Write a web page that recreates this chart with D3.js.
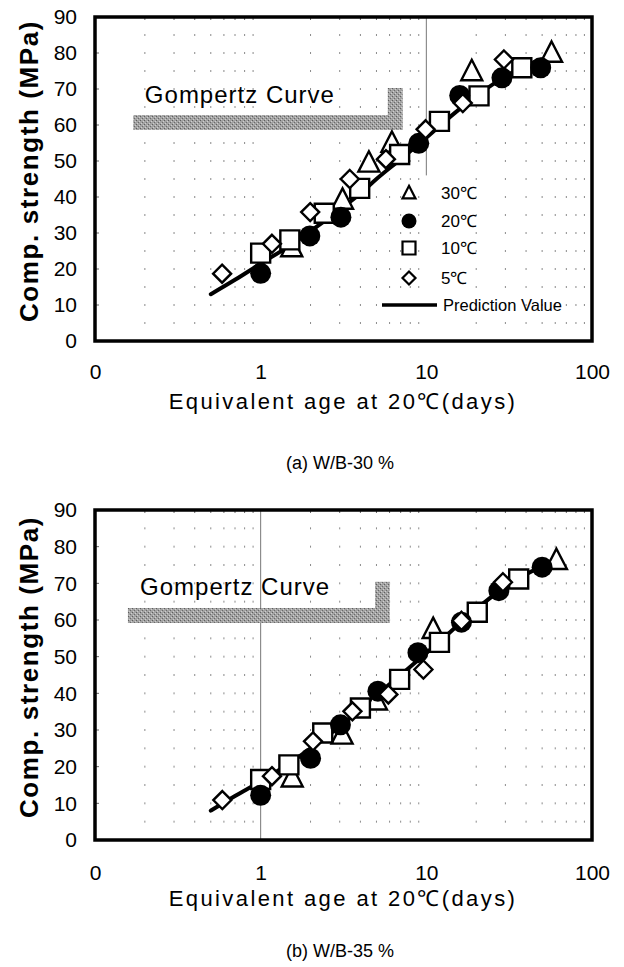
<!DOCTYPE html>
<html>
<head>
<meta charset="utf-8">
<script src="https://cdn.jsdelivr.net/npm/d3@7/dist/d3.min.js"></script>
<style>
  body { margin: 0; background: #fff; }
  text { font-family: "Liberation Sans", Arial, sans-serif; fill: #000; }
</style>
</head>
<body>
<script>
// axis ticks (the log axis starts at 0.1 but the label reads "0")
var xTicks = [0.1, 1, 10, 100];
var xTickLabels = ["0", "1", "10", "100"];
var yTicks = [0, 10, 20, 30, 40, 50, 60, 70, 80, 90];
var minorTicks = [0.2, 0.3, 0.4, 0.5, 0.6, 0.7, 0.8, 0.9,
                  2, 3, 4, 5, 6, 7, 8, 9,
                  20, 30, 40, 50, 60, 70, 80, 90];
var seriesNames = ["30℃", "20℃", "10℃", "5℃"];
var predName = "Prediction Value";

// (a) W/B-30 %  -- age in days, strength in MPa
var a30Age = [1.54, 3.12, 4.5, 6.2, 18.8, 57];
var a30Str = [26, 39.2, 49.5, 55, 74.9, 80];
var a20Age = [1.0, 1.98, 3.05, 9.0, 15.9, 28.6, 49];
var a20Str = [18.8, 29.2, 34.4, 54.9, 68.2, 73.1, 75.9];
var a10Age = [1.0, 1.5, 2.42, 3.96, 6.9, 12, 20.8, 37.7];
var a10Str = [24.4, 28.1, 35.5, 42.4, 51.8, 61, 68.1, 75.9];
var a5Age = [0.585, 1.17, 1.99, 3.45, 5.7, 9.9, 16.6, 29.4];
var a5Str = [18.7, 27, 35.8, 45, 50.5, 58.8, 66.1, 78.2];
var aPredAge = [0.5, 0.7, 1, 1.5, 2, 3, 4, 5, 7, 10, 15, 20, 30, 40, 60];
var aPredStr = [13, 17, 21.5, 26.5, 30.5, 36.5, 41, 45, 50.5, 56.5, 63.5, 68, 73.5, 76.5, 79.5];

// (b) W/B-35 %
var b30Age = [1.55, 3.1, 5.0, 11, 61];
var b30Str = [17, 28.7, 38, 57.5, 76.3];
var b20Age = [1.0, 2.0, 3.03, 5.1, 8.9, 16.3, 27.4, 50];
var b20Str = [12.2, 22.3, 31.4, 40.6, 51.1, 59.4, 68, 74.4];
var b10Age = [1.0, 1.48, 2.37, 4.0, 6.9, 12, 20.3, 36.1];
var b10Str = [16.5, 20.5, 29.2, 36, 43.8, 53.9, 62.1, 71.2];
var b5Age = [0.587, 1.17, 2.07, 3.58, 5.9, 9.6, 16.3, 29];
var b5Str = [10.9, 17.4, 26.9, 35.1, 39.7, 46.5, 59.8, 70.3];
var bPredAge = [0.5, 0.7, 1, 1.5, 2, 3, 4, 5, 7, 10, 15, 20, 30, 40, 60];
var bPredStr = [8, 12, 16, 21, 25, 31, 35.5, 39.5, 45, 51, 58, 63, 69, 72.5, 76];

var width = 624;
var height = 967;
var left = 95, right = 592;

var svg = d3.select("body").append("svg")
  .attr("width", width)
  .attr("height", height);

svg.append("rect").attr("width", width).attr("height", height).attr("fill", "#fff");

// halftone-ish grey for the Gompertz bracket
var pat = svg.append("defs").append("pattern")
  .attr("id", "halftone")
  .attr("width", 4).attr("height", 4)
  .attr("patternUnits", "userSpaceOnUse");
pat.append("rect").attr("width", 4).attr("height", 4).attr("fill", "#a2a2a2");
pat.append("rect").attr("width", 1).attr("height", 1).attr("fill", "#5e5e5e");
pat.append("rect").attr("x", 2).attr("y", 2).attr("width", 1).attr("height", 1).attr("fill", "#6a6a6a");
pat.append("rect").attr("x", 3).attr("y", 1).attr("width", 1).attr("height", 1).attr("fill", "#d0d0d0");
pat.append("rect").attr("x", 1).attr("y", 3).attr("width", 1).attr("height", 1).attr("fill", "#cfcfcf");

// marker outlines, centred on 0,0
function markerPath(kind, s) {
  if (kind == "tri") {
    return "M0," + (-s * 0.55) + "L" + (s / 2) + "," + (s * 0.42) + "L" + (-s / 2) + "," + (s * 0.42) + "Z";
  }
  if (kind == "sq") {
    return "M" + (-s / 2) + "," + (-s / 2) + "h" + s + "v" + s + "h" + (-s) + "Z";
  }
  if (kind == "dia") {
    return "M0," + (-s / 2) + "L" + (s / 2) + ",0L0," + (s / 2) + "L" + (-s / 2) + ",0Z";
  }
  return d3.arc()({innerRadius: 0, outerRadius: s / 2, startAngle: 0, endAngle: 2 * Math.PI});
}

// same order as seriesNames: 30, 20, 10, 5
var kinds = ["tri", "circ", "sq", "dia"];

function drawPanel(p) {
  var x = d3.scaleLog().domain([0.1, 100]).range([left, right]);
  var y = d3.scaleLinear().domain([0, 90]).range([p.bottom, p.top]);
  var g = svg.append("g");

  // dotted minor grid (short dashes every 5 MPa)
  var dashLen = 2;
  var step = y(0) - y(5);
  g.selectAll(".minor")
    .data(minorTicks)
    .enter().append("line")
    .attr("x1", function(d) { return x(d); })
    .attr("x2", function(d) { return x(d); })
    .attr("y1", y(0))
    .attr("y2", y(90))
    .attr("stroke", "#8a8a8a")
    .attr("stroke-width", 1)
    .attr("stroke-dasharray", dashLen + "," + (step - dashLen))
    .attr("stroke-dashoffset", dashLen / 2);

  // the one solid grid line
  g.append("line")
    .attr("x1", x(p.grid.t)).attr("x2", x(p.grid.t))
    .attr("y1", y(p.grid.from)).attr("y2", y(p.grid.to))
    .attr("stroke", "#777").attr("stroke-width", 1);

  // Gompertz bracket
  g.append("path")
    .attr("d", "M" + x(p.ann.x0) + "," + y(p.ann.barTop) +
               "H" + x(p.ann.vx) + "V" + y(p.ann.vTop) +
               "H" + x(p.ann.x1) + "V" + y(p.ann.barBot) +
               "H" + x(p.ann.x0) + "Z")
    .attr("fill", "url(#halftone)");
  g.append("text")
    .attr("x", x(p.ann.tx))
    .attr("y", y(p.ann.ty))
    .attr("font-size", 24)
    .attr("letter-spacing", 1)
    .text("Gompertz Curve");

  // prediction line
  var line = d3.line()
    .x(function(d, i) { return x(p.predAge[i]); })
    .y(function(d) { return y(d); })
    .curve(d3.curveMonotoneX);
  g.append("path")
    .attr("d", line(p.predStr))
    .attr("fill", "none")
    .attr("stroke", "#000")
    .attr("stroke-width", 4)
    .attr("stroke-linecap", "round");

  // markers drawn triangles, squares, circles, diamonds
  var sizes = {tri: 21, sq: 19, circ: 21, dia: 18};
  var order = [0, 2, 1, 3];
  order.forEach(function(si) {
    var k = kinds[si];
    var ages = p.ages[si];
    g.selectAll(".m" + si)
      .data(p.strs[si])
      .enter().append("path")
      .attr("d", markerPath(k, sizes[k]))
      .attr("transform", function(d, i) { return "translate(" + x(ages[i]) + "," + y(d) + ")"; })
      .attr("fill", k == "circ" ? "#000" : "#fff")
      .attr("stroke", "#000")
      .attr("stroke-width", k == "circ" ? 0 : 2.4)
      .attr("stroke-linejoin", "miter");
  });

  // small inside ticks on the frame
  g.selectAll(".yt")
    .data(yTicks)
    .enter().append("line")
    .attr("x1", left).attr("x2", left + 4)
    .attr("y1", function(d) { return y(d); })
    .attr("y2", function(d) { return y(d); })
    .attr("stroke", "#666");
  g.selectAll(".tt")
    .data(minorTicks)
    .enter().append("line")
    .attr("x1", function(d) { return x(d); })
    .attr("x2", function(d) { return x(d); })
    .attr("y1", y(90)).attr("y2", y(90) + 3)
    .attr("stroke", "#666");

  // frame
  g.append("rect")
    .attr("x", left).attr("y", p.top)
    .attr("width", right - left).attr("height", p.bottom - p.top)
    .attr("fill", "none")
    .attr("stroke", "#000")
    .attr("stroke-width", 3.5);

  // axes
  var yAxis = d3.axisLeft(y).tickValues(yTicks).tickSize(0).tickPadding(18);
  var ya = g.append("g").attr("transform", "translate(" + left + ",0)").call(yAxis);
  var xAxis = d3.axisBottom(x).tickValues(xTicks).tickSize(0).tickPadding(p.xPad)
    .tickFormat(function(d, i) { return xTickLabels[i]; });
  var xa = g.append("g").attr("transform", "translate(0," + p.bottom + ")").call(xAxis);
  [ya, xa].forEach(function(a) {
    a.select(".domain").remove();
    a.selectAll("text")
      .attr("font-family", "'Liberation Sans', Arial, sans-serif")
      .attr("font-size", 21)
      .attr("fill", "#000");
  });

  // axis titles
  g.append("text")
    .attr("transform", "translate(38," + ((p.top + p.bottom) / 2 - 8) + ") rotate(-90)")
    .attr("text-anchor", "middle")
    .attr("font-size", 26)
    .attr("font-weight", "bold")
    .attr("letter-spacing", 1.6)
    .text("Comp. strength (MPa)");
  g.append("text")
    .attr("x", 343)
    .attr("y", p.xTitleY)
    .attr("text-anchor", "middle")
    .attr("font-size", 22)
    .attr("letter-spacing", 2.4)
    .text("Equivalent age at 20℃(days)");

  // panel caption
  g.append("text")
    .attr("x", 340)
    .attr("y", p.capY)
    .attr("text-anchor", "middle")
    .attr("font-size", 18)
    .text(p.caption);

  return {x: x, y: y, g: g};
}

var pa = drawPanel({
  top: 17, bottom: 341, xPad: 23, xTitleY: 409, capY: 469,
  caption: "(a) W/B-30 %",
  ages: [a30Age, a20Age, a10Age, a5Age],
  strs: [a30Str, a20Str, a10Str, a5Str],
  predAge: aPredAge, predStr: aPredStr,
  grid: {t: 10, from: 46, to: 90},
  ann: {x0: 0.17, x1: 7.2, vx: 5.85, barTop: 62.8, barBot: 58.6, vTop: 70.3, tx: 0.2, ty: 66.1}
});

var pb = drawPanel({
  top: 510, bottom: 840, xPad: 25, xTitleY: 906, capY: 957,
  caption: "(b) W/B-35 %",
  ages: [b30Age, b20Age, b10Age, b5Age],
  strs: [b30Str, b20Str, b10Str, b5Str],
  predAge: bPredAge, predStr: bPredStr,
  grid: {t: 1, from: 0, to: 90},
  ann: {x0: 0.158, x1: 6.02, vx: 4.9, barTop: 63.3, barBot: 59.2, vTop: 70.4, tx: 0.187, ty: 66.8}
});

// legend, only in panel (a)
var legRows = [193, 221, 248, 278];
var leg = pa.g.append("g");
leg.selectAll(".lm")
  .data(seriesNames)
  .enter().append("path")
  .attr("d", function(d, i) { return markerPath(kinds[i], kinds[i] == "circ" ? 15 : 13); })
  .attr("transform", function(d, i) { return "translate(409," + legRows[i] + ")"; })
  .attr("fill", function(d, i) { return kinds[i] == "circ" ? "#000" : "#fff"; })
  .attr("stroke", "#000")
  .attr("stroke-width", function(d, i) { return kinds[i] == "circ" ? 0 : 2.2; });
leg.selectAll(".lt")
  .data(seriesNames)
  .enter().append("text")
  .attr("x", 441)
  .attr("y", function(d, i) { return legRows[i] + 6; })
  .attr("font-size", 17)
  .text(function(d) { return d; });
leg.append("line")
  .attr("x1", 382).attr("x2", 437)
  .attr("y1", 305).attr("y2", 305)
  .attr("stroke", "#000").attr("stroke-width", 3.5);
leg.append("text")
  .attr("x", 443).attr("y", 311)
  .attr("font-size", 16.5)
  .text(predName);
</script>
</body>
</html>
